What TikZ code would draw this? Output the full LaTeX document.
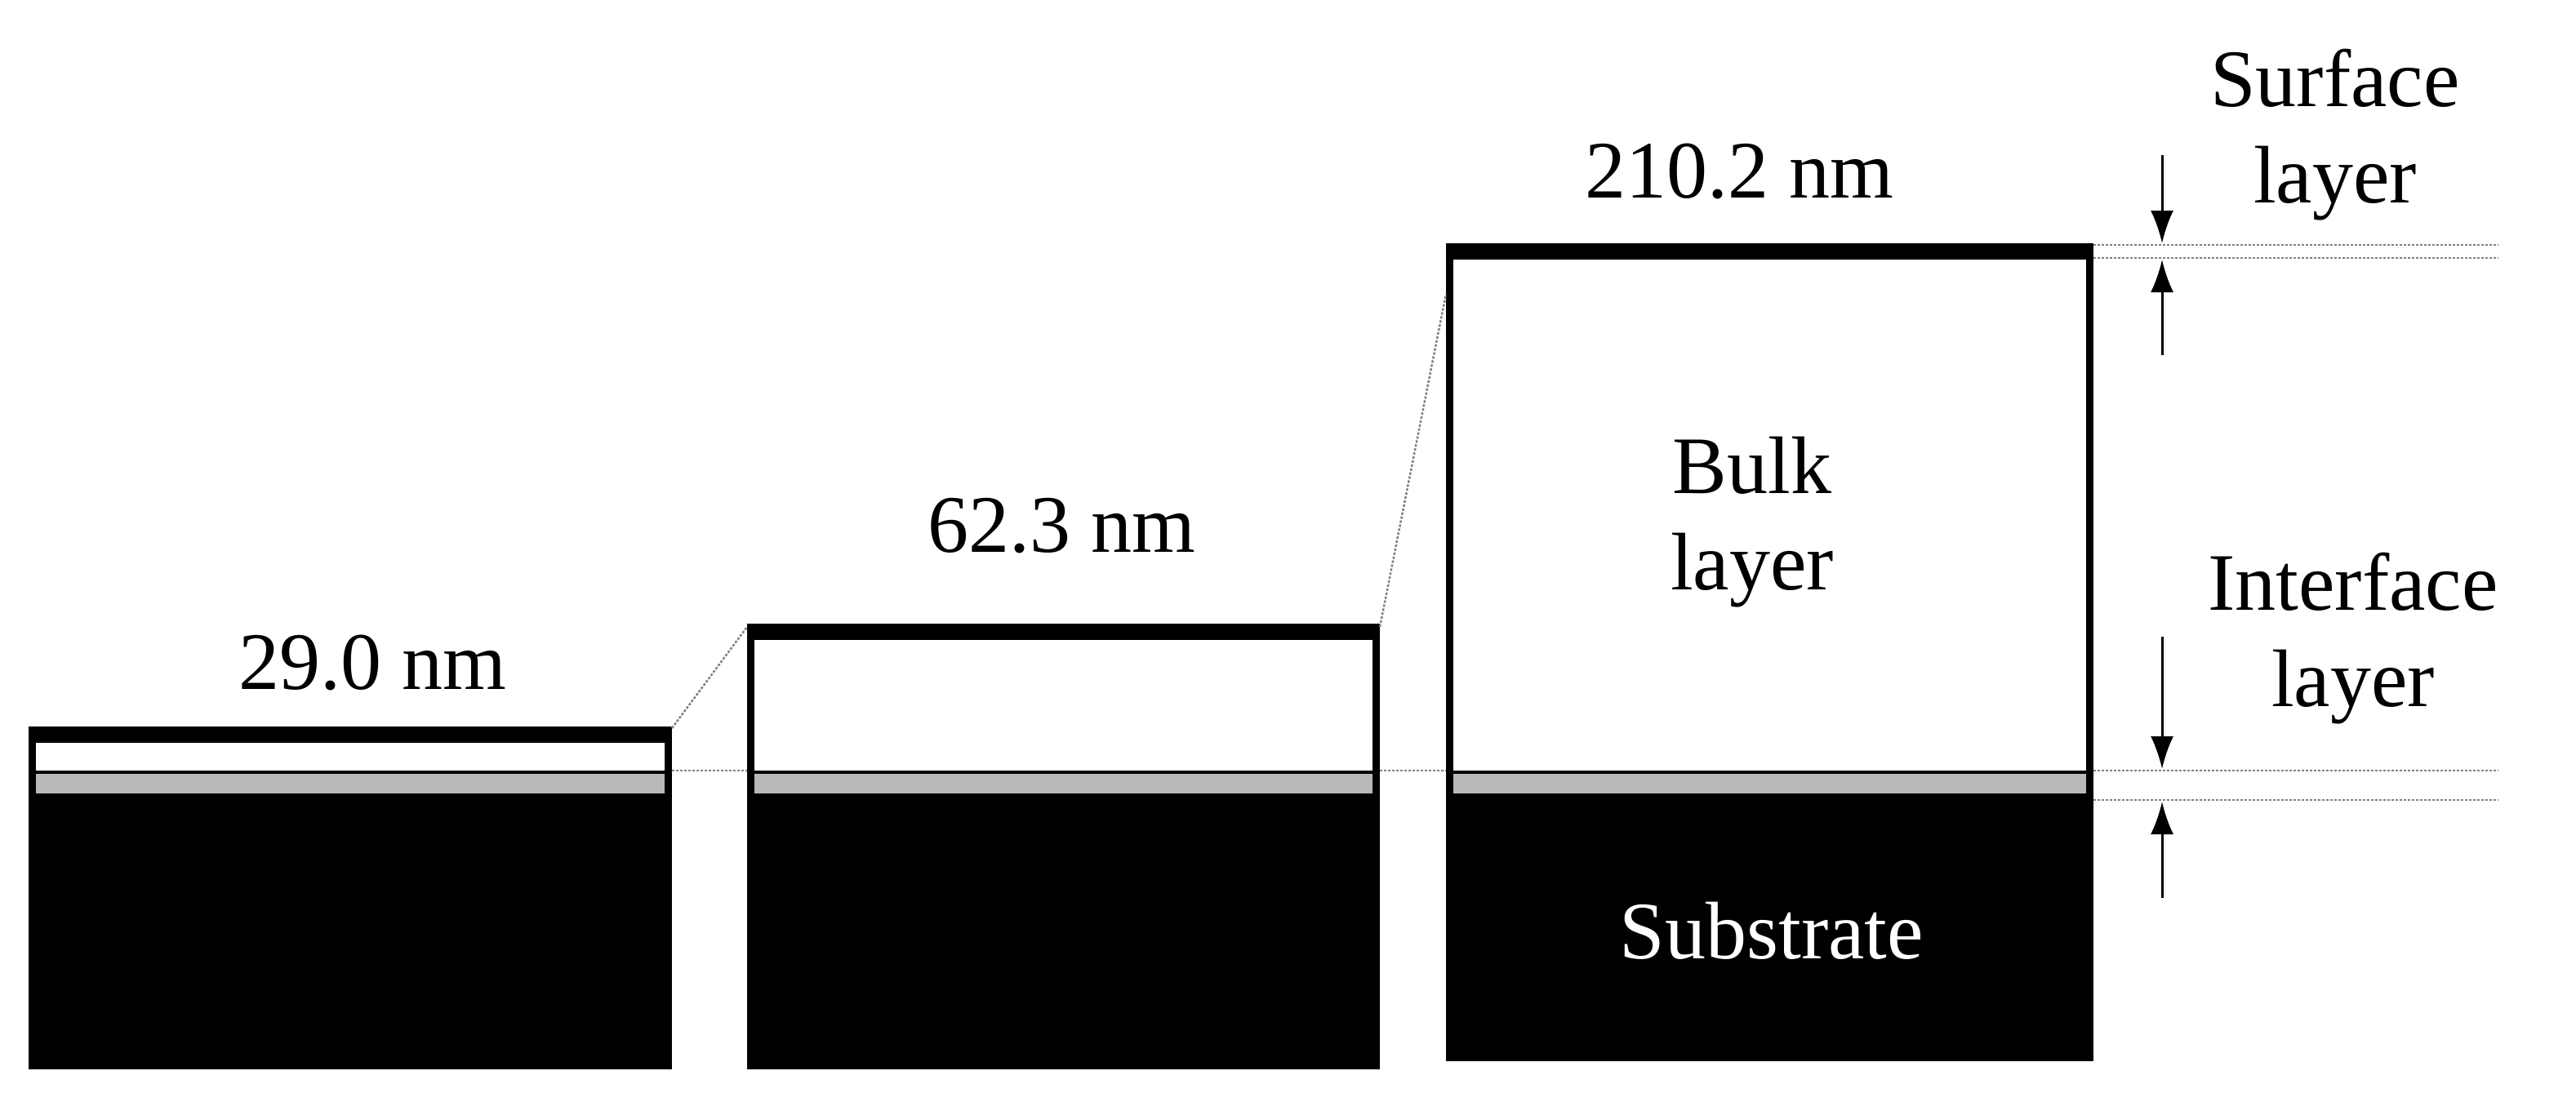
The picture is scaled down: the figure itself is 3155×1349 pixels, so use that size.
\documentclass[tikz,border=0pt]{standalone}
\usepackage{fontspec}
\setmainfont{Liberation Serif}
\usetikzlibrary{arrows.meta}
\begin{document}
\begin{tikzpicture}[x=1pt,y=-1pt,
  lbl/.style={font=\fontsize{100}{118}\selectfont, align=center, inner sep=0},
  dl/.style={densely dashed, line width=2.5pt, gray},
  arr/.style={line width=3pt,-{Latex[length=40pt,width=28pt]}}]
\useasboundingbox (0,0) rectangle (3155,1349);
% blocks: left, right, top, bottom
\foreach \l/\r/\t/\b in {35/823/890/1310, 915/1690/764/1310, 1771/2564/298/1300}{
  \fill[black] (\l,\t) rectangle (\r,\b);
  \fill[white] (\l+9,\t+20) rectangle (\r-9,944);
  \fill[gray!55] (\l+9,948) rectangle (\r-9,972);
}
% dashed guides
\draw[dl] (823,944) -- (915,944);
\draw[dl] (1690,944) -- (1771,944);
\draw[dl] (823,892) -- (915,768);
\draw[dl] (1690,768) -- (1771,360);
\foreach \y in {300,316,944,980} \draw[dl] (2564,\y) -- (3060,\y);
% arrows
\coordinate (s1) at (2648,190); \coordinate (s2) at (2648,298);
\coordinate (s3) at (2648,435); \coordinate (s4) at (2648,318);
\coordinate (i1) at (2648,780); \coordinate (i2) at (2648,942);
\coordinate (i3) at (2648,1100); \coordinate (i4) at (2648,982);
\draw[arr] (s1) -- (s2); \draw[arr] (s3) -- (s4);
\draw[arr] (i1) -- (i2); \draw[arr] (i3) -- (i4);
% labels
\node[lbl] (t1) at (456,812) {29.0 nm};
\node[lbl] (t2) at (1300,644) {62.3 nm};
\node[lbl] (t3) at (2130,210) {210.2 nm};
\node[lbl] (bulk) at (2146,640) {Bulk\\layer};
\node[lbl,text=white] (sub) at (2170,1140) {Substrate};
\node[lbl] (surf) at (2860,165) {Surface\\layer};
\node[lbl] (intf) at (2882,782) {Interface\\layer};
\end{tikzpicture}
\end{document}
